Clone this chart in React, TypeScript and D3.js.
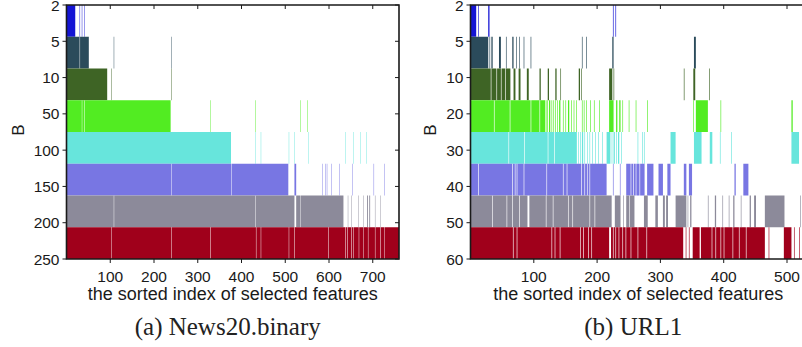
import React from 'react'
import * as d3 from 'd3'

const W = 802
const H = 347
const TOP = 5
const BOTTOM = 259

// one colour per B row, top to bottom
const ROW_COLORS = ['#1414d4', '#2b4b5b', '#3e6425', '#52ec22', '#67e5dc', '#7876e3', '#8c8a9a', '#a0001b']

// (a) News20.binary -- selected feature indices, as [first, last] runs per B row
const NEWS_B = ['2', '5', '10', '50', '100', '150', '200', '250']
const NEWS_TICKS = [100, 200, 300, 400, 500, 600, 700]
const NEWS_MAX = 760
const NEWS_RUNS: number[][][] = [
  [[0, 19], [30, 30], [35, 35], [41, 41]],
  [[0, 29], [31, 50], [108, 108], [240, 240]],
  [[0, 92], [103, 103], [240, 240]],
  [[0, 34], [36, 40], [42, 237], [329, 329], [432, 432], [535, 535], [551, 551]],
  [[0, 375], [432, 432], [444, 444], [508, 508], [521, 521], [552, 552], [637, 637], [655, 655], [671, 671], [685, 685]],
  [[0, 239], [241, 376], [378, 506], [521, 524], [585, 585], [592, 592], [595, 595], [605, 605], [623, 623], [653, 653], [702, 702], [726, 726]],
  [[0, 107], [109, 431], [433, 520], [525, 534], [536, 632], [643, 643], [651, 651], [667, 667], [678, 678], [687, 688], [692, 693], [705, 705], [717, 717]],
  [[0, 102], [104, 239], [241, 328], [330, 432], [434, 443], [445, 507], [509, 520], [522, 597], [599, 636], [638, 641], [643, 650], [652, 654], [656, 667], [669, 678], [680, 688], [690, 704], [706, 716], [718, 726], [728, 759]],
]

// (b) URL1
const URL_B = ['2', '5', '10', '20', '30', '40', '50', '60']
const URL_TICKS = [100, 200, 300, 400, 500]
const URL_MAX = 530
const URL_RUNS: number[][][] = [
  [[0, 8], [12, 12], [28, 29], [225, 225], [229, 229]],
  [[0, 27], [30, 30], [33, 34], [45, 47], [56, 56], [66, 67], [72, 72], [77, 77], [84, 84], [95, 95], [176, 176], [183, 183], [224, 225], [353, 355]],
  [[0, 31], [33, 40], [42, 47], [49, 54], [56, 62], [68, 70], [76, 78], [89, 91], [109, 110], [122, 123], [134, 135], [142, 142], [171, 172], [175, 175], [219, 223], [226, 226], [337, 337], [352, 354], [377, 377]],
  [[0, 36], [38, 61], [63, 94], [96, 108], [110, 117], [119, 119], [121, 121], [124, 125], [128, 128], [131, 131], [134, 134], [137, 137], [140, 141], [146, 146], [150, 150], [154, 155], [159, 159], [163, 163], [167, 167], [176, 176], [179, 179], [183, 183], [189, 189], [195, 195], [203, 203], [219, 225], [230, 231], [235, 236], [240, 240], [250, 250], [261, 261], [279, 279], [352, 352], [356, 374], [395, 395], [507, 508]],
  [[0, 59], [61, 84], [86, 121], [123, 131], [133, 167], [170, 170], [173, 173], [176, 177], [180, 180], [184, 184], [188, 188], [192, 192], [197, 197], [202, 202], [208, 208], [215, 220], [223, 223], [226, 227], [230, 230], [233, 234], [238, 238], [264, 264], [271, 271], [274, 274], [316, 323], [353, 364], [378, 381], [394, 394], [412, 412], [507, 518]],
  [[0, 11], [13, 65], [67, 69], [71, 72], [74, 83], [85, 119], [121, 145], [147, 151], [153, 174], [176, 179], [181, 183], [185, 187], [189, 214], [225, 225], [236, 236], [246, 252], [254, 256], [258, 260], [262, 266], [268, 274], [279, 288], [297, 303], [311, 315], [337, 340], [345, 349], [417, 418], [431, 438]],
  [[0, 33], [35, 56], [58, 65], [67, 76], [78, 89], [93, 118], [120, 129], [131, 153], [155, 160], [162, 187], [189, 195], [197, 222], [228, 236], [241, 241], [246, 250], [252, 258], [274, 279], [292, 295], [304, 306], [309, 311], [324, 340], [343, 343], [347, 348], [375, 375], [386, 387], [398, 398], [408, 408], [415, 416], [427, 427], [441, 442], [448, 450], [465, 495], [521, 521]],
  [[0, 66], [68, 72], [74, 127], [129, 132], [134, 140], [142, 172], [174, 177], [179, 185], [187, 190], [192, 218], [222, 224], [226, 228], [230, 233], [235, 239], [241, 244], [246, 252], [254, 263], [265, 277], [279, 335], [340, 340], [345, 345], [351, 361], [364, 380], [382, 386], [388, 394], [396, 399], [401, 413], [415, 423], [425, 434], [436, 464], [471, 471], [495, 506], [511, 511], [519, 519]],
]

const SANS = '"Liberation Sans", Arial, Helvetica, sans-serif'
const SERIF = '"Liberation Serif", "Times New Roman", serif'
const INK = '#1a1a1a'

type PanelProps = {
  id: string
  left: number
  right: number
  maxIndex: number
  ticks: number[]
  labels: string[]
  runs: number[][][]
  caption: string
  bX: number
}

function Panel({ id, left, right, maxIndex, ticks, labels, runs, caption, bX }: PanelProps) {
  const x = d3.scaleLinear().domain([0, maxIndex]).range([left, right])
  const band = d3.scaleBand<number>().domain(d3.range(labels.length)).range([TOP, BOTTOM])
  const tickY = d3.scalePoint<string>().domain(labels).range([TOP, BOTTOM])
  const mid = (left + right) / 2

  return (
    <g>
      <defs>
        <clipPath id={`clip-${id}`}>
          <rect x={left} y={TOP} width={right - left} height={BOTTOM - TOP} />
        </clipPath>
      </defs>

      <g clipPath={`url(#clip-${id})`}>
        {runs.map((row, i) =>
          row.map(([s, e], j) => (
            <rect key={`${i}-${j}`} x={x(s)} y={band(i)} width={x(e + 1) - x(s)}
              height={band.bandwidth()} fill={ROW_COLORS[i]} />
          ))
        )}
      </g>

      {/* frame */}
      <path d={`M${left},${TOP}H${right}V${BOTTOM}H${left}Z`} fill="none" stroke={INK} strokeWidth={1.6} />

      {/* x ticks: outward at bottom, inward at top */}
      {ticks.map(t => (
        <g key={t}>
          <line x1={x(t)} x2={x(t)} y1={BOTTOM} y2={BOTTOM + 4} stroke={INK} strokeWidth={1} />
          <line x1={x(t)} x2={x(t)} y1={TOP} y2={TOP + 4} stroke={INK} strokeWidth={1} />
          <text x={x(t)} y={282} textAnchor="middle" fontFamily={SANS} fontSize={15.5} fill={INK}>{t}</text>
        </g>
      ))}

      {/* y ticks */}
      {labels.map(l => (
        <g key={l}>
          <line x1={left - 4} x2={left} y1={tickY(l)} y2={tickY(l)} stroke={INK} strokeWidth={1} />
          <line x1={right - 4} x2={right} y1={tickY(l)} y2={tickY(l)} stroke={INK} strokeWidth={1} />
          <text x={left - 7} y={tickY(l)} dy="0.36em" textAnchor="end" fontFamily={SANS} fontSize={15.5} fill={INK}>{l}</text>
        </g>
      ))}

      <text transform={`translate(${bX},130) rotate(-90)`} dy="0.36em" textAnchor="middle"
        fontFamily={SANS} fontSize={17} fill={INK}>B</text>

      <text x={mid} y={300} textAnchor="middle" fontFamily={SANS} fontSize={18} fill={INK}>
        the sorted index of selected features
      </text>

      <text x={mid - 5} y={335} textAnchor="middle" fontFamily={SERIF} fontSize={25} fill="#222">
        {caption}
      </text>
    </g>
  )
}

export default function App() {
  return (
    <svg width={W} height={H} style={{ position: 'absolute', left: 0, top: 0, background: '#fff' }}>
      <rect width={W} height={H} fill="#fff" />
      <Panel id="news" left={66.5} right={399} maxIndex={NEWS_MAX} ticks={NEWS_TICKS}
        labels={NEWS_B} runs={NEWS_RUNS} caption="(a) News20.binary" bX={17.5} />
      <Panel id="url" left={470.5} right={806} maxIndex={URL_MAX} ticks={URL_TICKS}
        labels={URL_B} runs={URL_RUNS} caption="(b) URL1" bX={430} />
    </svg>
  )
}
